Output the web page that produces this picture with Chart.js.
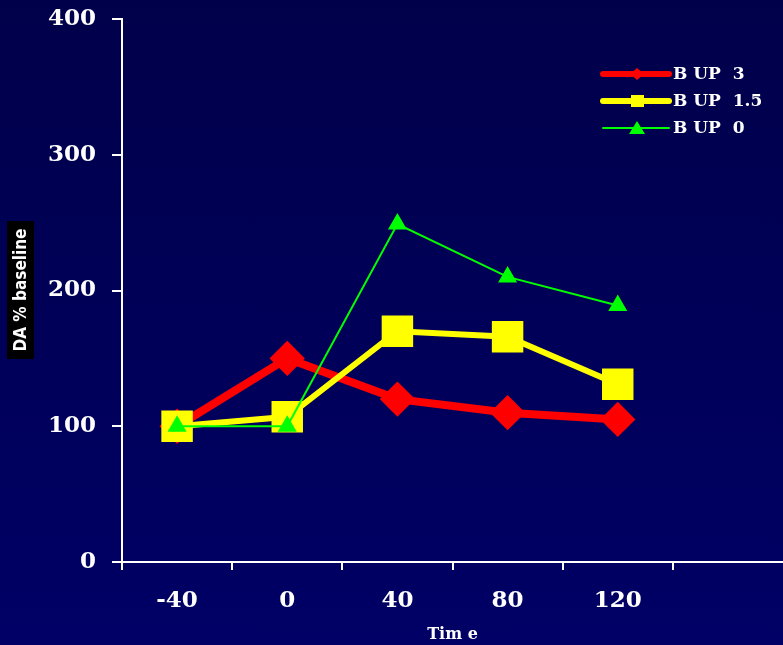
<!DOCTYPE html>
<html>
<head>
<meta charset="utf-8">
<script src="https://cdn.jsdelivr.net/npm/chart.js@4.4.1/dist/chart.umd.min.js"></script>
<style>
  html, body { margin: 0; padding: 0; }
  body {
    width: 783px;
    height: 645px;
    overflow: hidden;
    background: linear-gradient(#00004a, #000066);
  }
  canvas { display: block; }
</style>
</head>
<body>
<canvas id="chart" width="783" height="645"></canvas>
<script>
// values
const timeLabels = ['-40', '0', '40', '80', '120', ''];
const bup3 = [100, 150, 120, 110, 105];
const bup15 = [100, 107, 170, 166, 131];
const bup0 = [100, 100, 249, 210, 189];
const seriesNames = ['B UP  3', 'B UP  1.5', 'B UP  0'];
const yTitle = 'DA % baseline';
const xTitle = 'Tim e';

const serif = "'DejaVu Serif', 'Liberation Serif', serif";

// y axis title sits in a black box, drawn by hand
const yTitlePlugin = {
  id: 'yTitleBox',
  afterDraw(chart) {
    const ctx = chart.ctx;
    ctx.save();
    ctx.fillStyle = '#000';
    ctx.fillRect(7, 221, 27, 138);
    ctx.translate(21, 290);
    ctx.rotate(-Math.PI / 2);
    ctx.fillStyle = '#fff';
    ctx.font = "bold 17px 'DejaVu Sans Condensed', 'DejaVu Sans', sans-serif";
    ctx.textAlign = 'center';
    ctx.textBaseline = 'middle';
    ctx.fillText(yTitle, 0, 1);
    ctx.restore();
  }
};

// legend with line + marker samples
const legendPlugin = {
  id: 'lineLegend',
  afterDraw(chart) {
    const ctx = chart.ctx;
    const rows = [74, 101, 128];
    chart.data.datasets.forEach((ds, i) => {
      const y = rows[i];
      ctx.save();
      ctx.strokeStyle = ds.borderColor;
      ctx.fillStyle = ds.borderColor;
      ctx.lineCap = 'round';
      ctx.lineWidth = ds.legendLine;
      ctx.beginPath();
      ctx.moveTo(603, y);
      ctx.lineTo(669, y);
      ctx.stroke();
      ctx.beginPath();
      if (ds.pointStyle === 'rectRot') {
        ctx.moveTo(637, y - 6);
        ctx.lineTo(644, y);
        ctx.lineTo(637, y + 6);
        ctx.lineTo(630, y);
      } else if (ds.pointStyle === 'rect') {
        ctx.rect(631, y - 6, 13, 12);
      } else {
        ctx.moveTo(637, y - 7);
        ctx.lineTo(645, y + 6);
        ctx.lineTo(629, y + 6);
      }
      ctx.closePath();
      ctx.fill();
      ctx.fillStyle = '#fff';
      ctx.font = 'bold 17px ' + serif;
      ctx.textAlign = 'left';
      ctx.textBaseline = 'middle';
      ctx.fillText(seriesNames[i], 673, y + 1);
      ctx.restore();
    });
  }
};

new Chart(document.getElementById('chart'), {
  type: 'line',
  data: {
    labels: timeLabels,
    datasets: [
      {
        label: seriesNames[0],
        data: bup3,
        borderColor: '#ff0000',
        backgroundColor: '#ff0000',
        borderWidth: 8,
        legendLine: 6,
        pointStyle: 'rectRot',
        pointRadius: 12,
        order: 3
      },
      {
        label: seriesNames[1],
        data: bup15,
        borderColor: '#ffff00',
        backgroundColor: '#ffff00',
        borderWidth: 6,
        legendLine: 6,
        pointStyle: 'rect',
        pointRadius: 18,
        order: 2
      },
      {
        label: seriesNames[2],
        data: bup0,
        borderColor: '#00ff00',
        backgroundColor: '#00ff00',
        borderWidth: 2,
        legendLine: 2,
        pointStyle: 'triangle',
        pointRadius: 9,
        order: 1
      }
    ]
  },
  options: {
    responsive: false,
    animation: false,
    layout: {
      autoPadding: false,
      padding: { top: 19, right: 0, bottom: 0, left: 0 }
    },
    plugins: {
      legend: { display: false },
      tooltip: { enabled: false }
    },
    elements: {
      line: { tension: 0 },
      point: { borderWidth: 0 }
    },
    scales: {
      x: {
        offset: true,
        afterFit: (scale) => {
          scale.height = 83;
          scale.paddingLeft = 0;
          scale.paddingRight = 0;
        },
        grid: {
          offset: true,
          drawOnChartArea: false,
          tickLength: 8,
          // the extra grid line past the last category gets no tick mark
          color: (c) => (c.tick ? '#fff' : 'rgba(0,0,0,0)'),
          lineWidth: 2
        },
        border: { color: '#fff', width: 2 },
        ticks: {
          color: '#fff',
          padding: 17,
          maxRotation: 0,
          autoSkip: false,
          font: { family: serif, size: 23, weight: 'bold' }
        },
        title: {
          display: true,
          text: xTitle,
          color: '#fff',
          font: { family: serif, size: 16, weight: 'bold' },
          padding: { top: 0, bottom: 1 }
        }
      },
      y: {
        min: 0,
        max: 400,
        afterFit: (scale) => {
          scale.width = 122;
          scale.paddingTop = 0;
          scale.paddingBottom = 0;
        },
        grid: {
          drawOnChartArea: false,
          tickLength: 10,
          color: '#fff',
          lineWidth: 2
        },
        border: { color: '#fff', width: 2 },
        ticks: {
          stepSize: 100,
          color: '#fff',
          padding: 16,
          font: { family: serif, size: 23, weight: 'bold' }
        }
      }
    }
  },
  plugins: [yTitlePlugin, legendPlugin]
});
</script>
</body>
</html>
